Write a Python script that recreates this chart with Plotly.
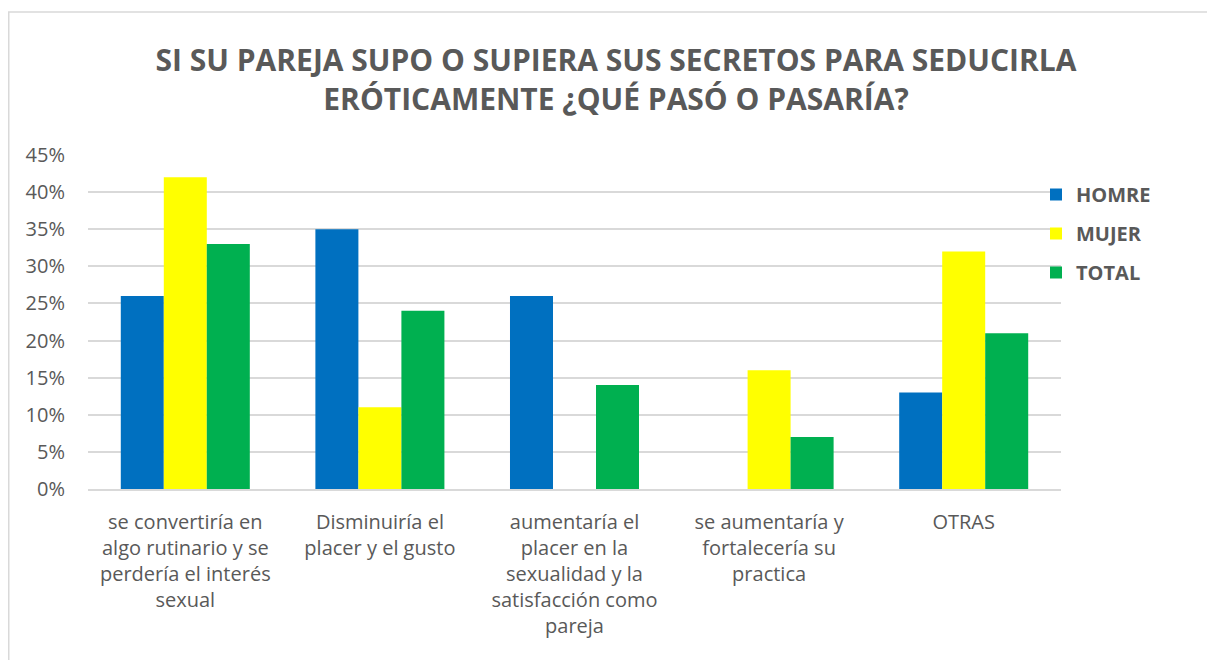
import plotly.graph_objects as go

categories = [
    "se convertiría en<br>algo rutinario y se<br>perdería el interés<br>sexual",
    "Disminuiría el<br>placer y el gusto",
    "aumentaría el<br>placer en la<br>sexualidad y la<br>satisfacción como<br>pareja",
    "se aumentaría y<br>fortalecería su<br>practica",
    "OTRAS",
]
series_names = ["HOMRE", "MUJER", "TOTAL"]
homre = [0.26, 0.35, 0.26, 0.0, 0.13]
mujer = [0.42, 0.11, 0.0, 0.16, 0.32]
total = [0.33, 0.24, 0.14, 0.07, 0.21]
y_ticks = [0, 0.05, 0.10, 0.15, 0.20, 0.25, 0.30, 0.35, 0.40, 0.45]

colors = ["#0070C0", "#FFFF00", "#00B050"]
FONT = "Open Sans, sans-serif"
GRAY = "#595959"

fig = go.Figure()
for i, (name, vals) in enumerate(zip(series_names, [homre, mujer, total])):
    fig.add_trace(go.Bar(
        x=categories, y=vals, name=name, legendgroup=name,
        marker=dict(color=colors[i], line=dict(width=0)),
    ))

# figure is placed 8px into the page by the body margin
W, H = 1207, 652
L, R, T, B = 80, 154, 147, 171
PW, PH = W - L - R, H - T - B

fig.update_layout(
    width=W, height=H,
    margin=dict(l=L, r=R, t=T, b=B, autoexpand=False),
    paper_bgcolor="white", plot_bgcolor="white",
    barmode="group", bargap=0.337, bargroupgap=0,
    font=dict(family=FONT, color=GRAY, size=20),
    title=dict(
        text="SI SU PAREJA SUPO O SUPIERA SUS SECRETOS PARA SEDUCIRLA<br>ERÓTICAMENTE ¿QUÉ PASÓ O PASARÍA?",
        x=608 / W, xref="container", xanchor="center",
        y=1 - 63 / H, yref="container", yanchor="middle",
        font=dict(family=FONT, size=30, color=GRAY, weight="bold"),
    ),
    legend=dict(
        x=(1028 - L) / PW, xanchor="left",
        y=(H - B - 167) / PH, yanchor="top",
        font=dict(family=FONT, size=20, color=GRAY, weight="bold"),
        tracegroupgap=10, traceorder="grouped",
        bgcolor="rgba(0,0,0,0)",
    ),
    xaxis=dict(
        showgrid=False, showline=True, linecolor="#d9d9d9", linewidth=1.5,
        ticks="", ticklabelstandoff=14,
        tickfont=dict(size=20, color=GRAY, family=FONT),
    ),
    yaxis=dict(
        range=[0, 0.45], tickvals=y_ticks, tickformat=".0%",
        showgrid=True, gridcolor="#d9d9d9", gridwidth=1.5,
        zeroline=False, showline=False, ticks="",
        ticklabelstandoff=22,
        tickfont=dict(size=20, color=GRAY, family=FONT),
    ),
    shapes=[dict(
        type="rect", xref="paper", yref="paper",
        x0=(0.75 - L) / PW, x1=(W + 10 - L) / PW,
        y0=(H - B - (H + 10)) / PH, y1=(H - B - 4) / PH,
        line=dict(color="#d9d9d9", width=1.5), fillcolor="rgba(0,0,0,0)",
        layer="below",
    )],
)

fig.write_html("out.html")
